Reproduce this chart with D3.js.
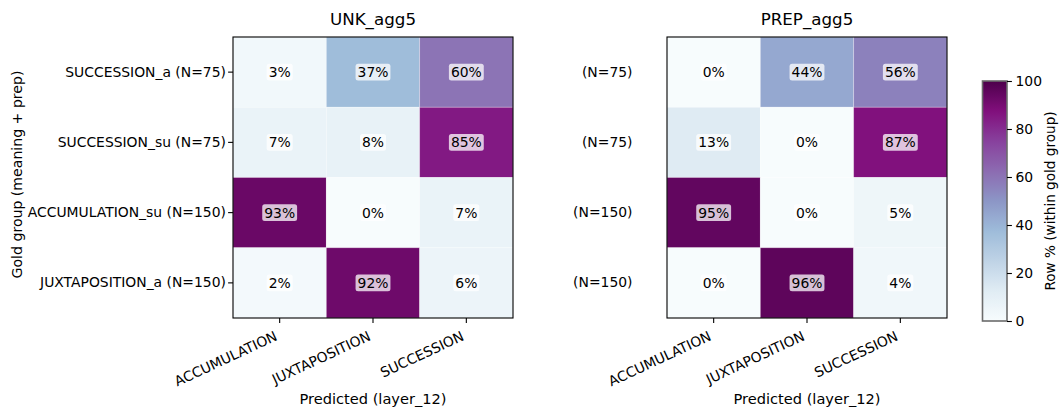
<!DOCTYPE html>
<html>
<head>
<meta charset="utf-8">
<script src="https://cdn.jsdelivr.net/npm/d3@7"></script>
<style>
  html, body { margin: 0; padding: 0; background: #ffffff; }
  svg { display: block; font-family: "DejaVu Sans", sans-serif; }
</style>
</head>
<body>
<svg id="chart" width="1061" height="410"></svg>
<script>
// Gold groups (rows) and predicted classes (columns)
const goldGroups = ["SUCCESSION_a", "SUCCESSION_su", "ACCUMULATION_su", "JUXTAPOSITION_a"];
const groupSizes = [75, 75, 150, 150];
const predictedClasses = ["ACCUMULATION", "JUXTAPOSITION", "SUCCESSION"];

// Row-normalised percentages per condition
const unkValues = [
  [3, 37, 60],
  [7, 8, 85],
  [93, 0, 7],
  [2, 92, 6]
];
const prepValues = [
  [0, 44, 56],
  [13, 0, 87],
  [95, 0, 5],
  [0, 96, 4]
];
const panelTitles = ["UNK_agg5", "PREP_agg5"];
const colorbarTicks = [0, 20, 40, 60, 80, 100];

// BuPu colour ramp, linearly interpolated between its nine anchors
const buPuAnchors = ["#f7fcfd", "#e0ecf4", "#bfd3e6", "#9ebcda", "#8c96c6",
                     "#8c6bb1", "#88419d", "#810f7c", "#4d004b"];
const color = d3.scaleLinear()
  .domain(d3.range(buPuAnchors.length).map(i => i * 100 / (buPuAnchors.length - 1)))
  .range(buPuAnchors)
  .interpolate(d3.interpolateRgb)
  .clamp(true);

const svg = d3.select("#chart");
const fontSize = 13.9;
const panelTop = 37, panelBottom = 318;

const panels = [
  { left: 233, right: 513, values: unkValues, title: panelTitles[0], fullLabels: true, labelGap: 0 },
  { left: 667, right: 947, values: prepValues, title: panelTitles[1], fullLabels: false, labelGap: 26 }
];

panels.forEach(p => {
  const x = d3.scaleBand().domain(d3.range(predictedClasses.length)).range([p.left, p.right]);
  const y = d3.scaleBand().domain(d3.range(goldGroups.length)).range([panelTop, panelBottom]);
  const g = svg.append("g");

  // cells
  const cells = [];
  p.values.forEach((row, r) => row.forEach((v, c) => cells.push({ r, c, v })));
  g.selectAll("rect.cell").data(cells).join("rect")
    .attr("class", "cell")
    .attr("x", d => x(d.c)).attr("y", d => y(d.r))
    .attr("width", x.bandwidth()).attr("height", y.bandwidth())
    .attr("fill", d => color(d.v))
    .attr("stroke", "#ffffff").attr("stroke-opacity", 0.35).attr("stroke-width", 0.8);

  // value annotations with a translucent white box
  const ann = g.selectAll("g.ann").data(cells).join("g")
    .attr("class", "ann")
    .attr("transform", d => `translate(${x(d.c) + x.bandwidth() / 2},${y(d.r) + y.bandwidth() / 2})`);
  const rects = ann.append("rect").attr("fill", "#ffffff").attr("fill-opacity", 0.75).attr("rx", 2.5);
  const texts = ann.append("text")
    .attr("text-anchor", "middle").attr("dy", "0.36em")
    .attr("font-size", fontSize).attr("fill", "#000")
    .text(d => d.v + "%");
  texts.each(function (d, i) {
    const w = this.getComputedTextLength();
    d3.select(rects.nodes()[i])
      .attr("x", -w / 2 - 2).attr("y", -8.3).attr("width", w + 4).attr("height", 16.6);
  });

  // frame
  g.append("rect")
    .attr("x", p.left).attr("y", panelTop)
    .attr("width", p.right - p.left).attr("height", panelBottom - panelTop)
    .attr("fill", "none").attr("stroke", "#000").attr("stroke-width", 1.1);

  // x axis ticks
  const xAxis = g.append("g")
    .attr("transform", `translate(0,${panelBottom})`)
    .call(d3.axisBottom(x).tickSize(4.9).tickFormat(""));
  xAxis.select(".domain").remove();
  xAxis.selectAll(".tick line").attr("stroke", "#000").attr("stroke-width", 1.1);

  // rotated x tick labels, right-aligned under each tick
  g.selectAll("text.xlab").data(predictedClasses).join("text")
    .attr("class", "xlab")
    .attr("text-anchor", "end")
    .attr("font-size", fontSize)
    .attr("transform", (d, i) => `translate(${x(i) + x.bandwidth() / 2 - 1.4},${panelBottom + 4.9 + 4.9 + 11.7}) rotate(-25)`)
    .text(d => d);

  // y axis
  if (p.fullLabels) {
    const yAxis = g.append("g")
      .attr("transform", `translate(${p.left},0)`)
      .call(d3.axisLeft(y).tickSize(4.9).tickPadding(2.2)
        .tickFormat(i => `${goldGroups[i]} (N=${groupSizes[i]})`));
    yAxis.select(".domain").remove();
    yAxis.selectAll(".tick line").attr("stroke", "#000").attr("stroke-width", 1.1);
    yAxis.selectAll(".tick text").attr("font-size", fontSize).attr("fill", "#000")
      .attr("font-family", "DejaVu Sans");
  } else {
    g.selectAll("text.ylab").data(goldGroups).join("text")
      .attr("class", "ylab")
      .attr("text-anchor", "end")
      .attr("font-size", fontSize)
      .attr("x", p.left - 8.5 - p.labelGap)
      .attr("y", (d, i) => y(i) + y.bandwidth() / 2)
      .attr("dy", "0.32em")
      .text((d, i) => `(N=${groupSizes[i]})`);
  }

  // title
  g.append("text")
    .attr("x", (p.left + p.right) / 2).attr("y", 24.5)
    .attr("text-anchor", "middle").attr("font-size", 16.7)
    .text(p.title);

  // x axis label
  g.append("text")
    .attr("x", (p.left + p.right) / 2).attr("y", 404)
    .attr("text-anchor", "middle").attr("font-size", 14.6)
    .text("Predicted (layer_12)");
});

// y axis label
svg.append("text")
  .attr("transform", `translate(22,${(panelTop + panelBottom) / 2 - 3}) rotate(-90)`)
  .attr("text-anchor", "middle").attr("font-size", 14.1)
  .text("Gold group (meaning + prep)");

// colour bar
const cb = { left: 982.5, right: 1007, top: 81, bottom: 321 };
const cbScale = d3.scaleLinear().domain([0, 100]).range([cb.bottom, cb.top]);
const defs = svg.append("defs");
const grad = defs.append("linearGradient").attr("id", "cbgrad")
  .attr("x1", 0).attr("y1", 1).attr("x2", 0).attr("y2", 0);
grad.selectAll("stop").data(d3.range(0, 101, 2)).join("stop")
  .attr("offset", d => d / 100)
  .attr("stop-color", d => color(d));
svg.append("rect")
  .attr("x", cb.left).attr("y", cb.top)
  .attr("width", cb.right - cb.left).attr("height", cb.bottom - cb.top)
  .attr("fill", "url(#cbgrad)")
  .attr("stroke", "#6b6b6b").attr("stroke-width", 1.6);
const cbAxis = svg.append("g")
  .attr("transform", `translate(${cb.right},0)`)
  .call(d3.axisRight(cbScale).tickValues(colorbarTicks).tickSize(4.9).tickPadding(3.6));
cbAxis.select(".domain").remove();
cbAxis.selectAll(".tick line").attr("stroke", "#000").attr("stroke-width", 1.1);
cbAxis.selectAll(".tick text").attr("font-size", fontSize).attr("fill", "#000")
  .attr("font-family", "DejaVu Sans");
svg.append("text")
  .attr("transform", `translate(1055,${(cb.top + cb.bottom) / 2}) rotate(-90)`)
  .attr("text-anchor", "middle").attr("font-size", 13.6)
  .text("Row % (within gold group)");
</script>
</body>
</html>
